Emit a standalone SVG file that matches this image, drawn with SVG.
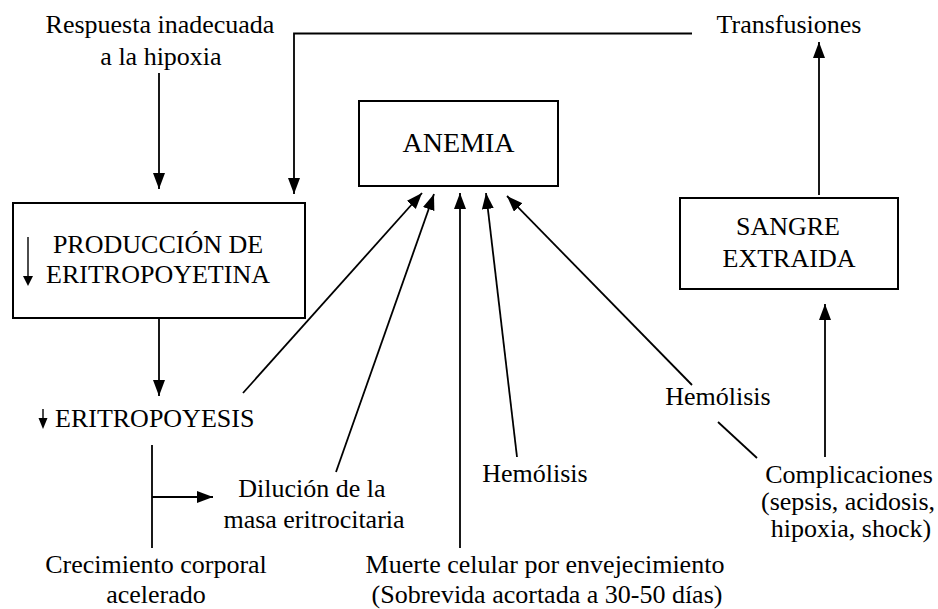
<svg xmlns="http://www.w3.org/2000/svg" width="938" height="609" viewBox="0 0 938 609">
<style>
  text { font-family: "Liberation Serif", "Times New Roman", serif; font-size: 26px; fill: #000; }
  .c { text-anchor: middle; }
  .box { fill: #fff; stroke: #000; stroke-width: 2; }
  .ln { fill: none; stroke: #000; stroke-width: 1.8; }
  .arr { marker-end: url(#ah); }
</style>
<defs>
  <marker id="ah" markerUnits="userSpaceOnUse" markerWidth="17" markerHeight="13" refX="16" refY="6" orient="auto">
    <path d="M0,0 L16,6 L0,12 z" fill="#000"/>
  </marker>
</defs>
<rect width="938" height="609" fill="#fff"/>

<g id="connectors">
  <line class="ln arr" x1="159" y1="73" x2="159" y2="189"/>
  <polyline class="ln arr" points="692,33.5 294,33.5 294,194"/>
  <line class="ln arr" x1="159" y1="318" x2="159" y2="396"/>
  <line class="ln arr" x1="243" y1="393" x2="422" y2="193"/>
  <line class="ln arr" x1="336" y1="472" x2="434" y2="194"/>
  <line class="ln arr" x1="460" y1="548" x2="460" y2="193"/>
  <line class="ln arr" x1="517" y1="457" x2="486" y2="193"/>
  <line class="ln arr" x1="692" y1="385" x2="507" y2="196"/>
  <line class="ln" x1="718" y1="422" x2="757" y2="458"/>
  <line class="ln arr" x1="825" y1="457" x2="825" y2="304"/>
  <line class="ln arr" x1="819" y1="195" x2="819" y2="42"/>
  <line class="ln" x1="152" y1="445" x2="152" y2="548"/>
  <line class="ln arr" x1="152" y1="497" x2="213" y2="497"/>
</g>

<g id="respuesta">
  <text class="c" x="160" y="33">Respuesta inadecuada</text>
  <text class="c" x="161" y="65">a la hipoxia</text>
</g>

<g id="transfusiones">
  <text class="c" x="789" y="33">Transfusiones</text>
</g>

<g id="anemia">
  <rect class="box" x="359" y="101" width="199" height="85"/>
  <text class="c" x="458.5" y="152" style="font-size:28px">ANEMIA</text>
</g>

<g id="produccion">
  <rect class="box" x="13" y="203" width="292" height="115"/>
  <line x1="28" y1="237" x2="28" y2="279" stroke="#000" stroke-width="1.4"/>
  <path d="M23,276 L33,276 L28,286 z" fill="#000"/>
  <text class="c" x="158" y="253">PRODUCCIÓN DE</text>
  <text class="c" x="158" y="283">ERITROPOYETINA</text>
</g>

<g id="sangre">
  <rect class="box" x="680" y="198" width="218" height="91"/>
  <text class="c" x="788" y="235">SANGRE</text>
  <text class="c" x="789" y="267">EXTRAIDA</text>
</g>

<g id="eritropoyesis">
  <line x1="43" y1="409" x2="43" y2="420" stroke="#000" stroke-width="1.4"/>
  <path d="M38.5,418 L47.5,418 L43,429 z" fill="#000"/>
  <text x="55" y="427">ERITROPOYESIS</text>
</g>

<g id="dilucion">
  <text class="c" x="312" y="497">Dilución de la</text>
  <text class="c" x="314" y="528">masa eritrocitaria</text>
</g>

<g id="crecimiento">
  <text class="c" x="156" y="573">Crecimiento corporal</text>
  <text class="c" x="156" y="603">acelerado</text>
</g>

<g id="muerte">
  <text class="c" x="545" y="573">Muerte celular por envejecimiento</text>
  <text class="c" x="547" y="603">(Sobrevida acortada a 30-50 días)</text>
</g>

<g id="hemolisis1">
  <text class="c" x="535" y="482">Hemólisis</text>
</g>

<g id="hemolisis2">
  <text class="c" x="718" y="405">Hemólisis</text>
</g>

<g id="complicaciones">
  <text class="c" x="849" y="483">Complicaciones</text>
  <text class="c" x="848" y="510">(sepsis, acidosis,</text>
  <text class="c" x="851" y="537">hipoxia, shock)</text>
</g>
</svg>
